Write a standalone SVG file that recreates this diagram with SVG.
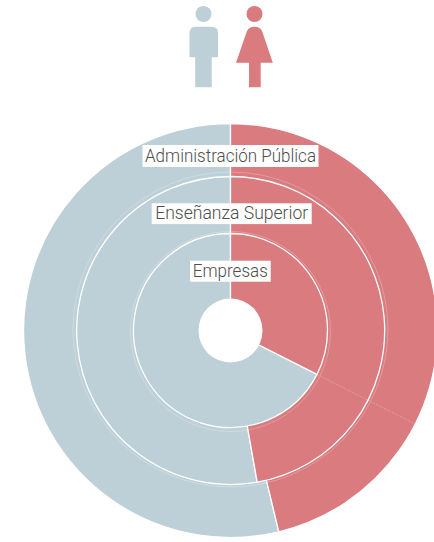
<svg xmlns="http://www.w3.org/2000/svg" width="434" height="542" viewBox="0 0 434 542">
<style>
.m{fill:#bdd0d7}
.w{fill:#d97b7f}
.seg{stroke:#fff;stroke-width:1.3;stroke-linejoin:round}
.faint{fill:none;stroke:#fff;stroke-opacity:0.3;stroke-width:0.8}
.lbg{fill:#fff}
.lt{font-family:Roboto,"Liberation Sans",sans-serif;font-weight:300;font-size:17.5px;fill:#4d4d4d;text-anchor:middle}
</style>
<rect width="434" height="542" fill="#fff"/>
<g id="icon-men">
<circle class="m" cx="203.5" cy="14" r="8"/>
<path class="m" d="M189.5,57.3 V33 Q189.5,26.7 196,26.7 H211.5 Q218,26.7 218,33 V57.3 H211.7 V87.3 H195.2 V57.3 Z"/>
</g>
<g id="icon-women">
<circle class="w" cx="254.5" cy="14" r="8"/>
<path class="w" d="M236,62.7 L246.8,31.5 Q248.5,26.7 254.5,26.7 Q260.5,26.7 262.2,31.5 L272.8,62.7 H260.7 V87.3 H249 V62.7 Z"/>
</g>
<g id="ring-administracion">
<path class="m seg" d="M230.5,330.5 L278.8,531.8 A207,207 0 1,1 230.5,123.5 Z"/>
<path class="w seg" d="M230.5,330.5 L230.5,123.5 A207,207 0 0,1 278.8,531.8 Z"/>
</g>
<g id="ring-ensenanza">
<path class="m seg" d="M230.5,330.5 L257.2,482.2 A154,154 0 1,1 230.5,176.5 Z"/>
<path class="w seg" d="M230.5,330.5 L230.5,176.5 A154,154 0 0,1 257.2,482.2 Z"/>
</g>
<g id="ring-empresas">
<path class="m seg" d="M230.5,330.5 L317,374.4 A97,97 0 1,1 230.5,233.5 Z"/>
<path class="w seg" d="M230.5,330.5 L230.5,233.5 A97,97 0 0,1 317,374.4 Z"/>
</g>
<g id="connectors">
<circle class="faint" cx="230.5" cy="329.5" r="157.5"/>
<circle class="faint" cx="230.5" cy="331.5" r="100"/>
<line class="faint" x1="317" y1="374.4" x2="415.1" y2="424.1" stroke-dasharray="2 1"/>
</g>
<g id="hole">
<circle cx="230.5" cy="330.5" r="32" fill="#fff"/>
</g>
<g id="label-administracion">
<rect class="lbg" x="142.5" y="145" width="176" height="22"/>
<text class="lt" x="230.5" y="162" textLength="171" lengthAdjust="spacingAndGlyphs">Administración Pública</text>
</g>
<g id="label-ensenanza">
<rect class="lbg" x="151.7" y="203.3" width="160" height="20.8"/>
<text class="lt" x="231.7" y="219.2" textLength="153" lengthAdjust="spacingAndGlyphs">Enseñanza Superior</text>
</g>
<g id="label-empresas">
<rect class="lbg" x="190" y="260.7" width="80.7" height="21"/>
<text class="lt" x="230.3" y="276.7" textLength="75" lengthAdjust="spacingAndGlyphs">Empresas</text>
</g>
</svg>
